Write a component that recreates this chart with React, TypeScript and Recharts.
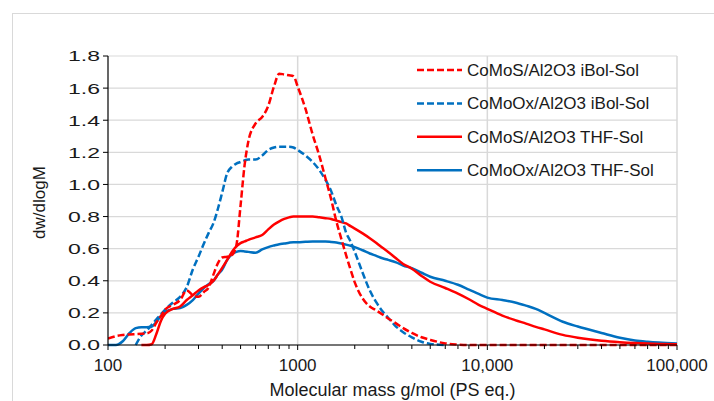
import React from 'react';
import { LineChart, Line, XAxis, YAxis, CartesianGrid, Legend, Label, ReferenceLine } from 'recharts';

// molar mass grid (g/mol, PS eq.) shared by all four traces
const massGrid = [
  100, 110, 120, 130, 140, 150, 160, 170, 180, 190,
  200, 220, 240, 260, 280, 300, 320, 340, 360, 380,
  400, 425, 450, 475, 500, 525, 550, 600, 650, 700,
  750, 800, 850, 900, 950, 1000, 1100, 1200, 1300, 1400,
  1500, 1600, 1700, 1800, 1900, 2000, 2200, 2400, 2600, 2800,
  3000, 3300, 3600, 4000, 4500, 5000, 6000, 7000, 8000, 9000,
  10000, 12000, 14000, 16000, 18000, 20000, 25000, 30000, 40000, 50000,
  60000, 70000, 80000, 100000,
];

// dw/dlogM
const cmsIbol = [
  0.04, 0.055, 0.062, 0.066, 0.068, 0.07, 0.072, 0.09, 0.14, 0.18,
  0.22, 0.25, 0.28, 0.34, 0.31, 0.30, 0.33, 0.36, 0.44, 0.51,
  0.545, 0.55, 0.56, 0.62, 0.87, 1.12, 1.27, 1.38, 1.42, 1.49,
  1.61, 1.69, 1.685, 1.68, 1.675, 1.61, 1.47, 1.31, 1.18, 1.04,
  0.91, 0.77, 0.66, 0.56, 0.47, 0.39, 0.29, 0.24, 0.215, 0.19,
  0.165, 0.135, 0.105, 0.075, 0.048, 0.032, 0.01, 0.003, 0, 0,
  0, 0, 0, 0, 0, 0, 0, 0, 0, 0,
  0, 0, 0, 0,
];
const cmoIbol = [
  null, null, null, null, 0, 0.06, 0.09, 0.125, 0.16, 0.19,
  0.22, 0.265, 0.30, 0.36, 0.47, 0.55, 0.63, 0.70, 0.76, 0.85,
  0.95, 1.07, 1.11, 1.13, 1.14, 1.15, 1.155, 1.155, 1.18, 1.215,
  1.23, 1.235, 1.235, 1.235, 1.23, 1.215, 1.18, 1.14, 1.09, 1.03,
  0.96, 0.87, 0.80, 0.70, 0.645, 0.58, 0.45, 0.34, 0.265, 0.21,
  0.17, 0.115, 0.08, 0.048, 0.02, 0.007, 0, null, null, null,
  null, null, null, null, null, null, null, null, null, null,
  null, null, null, null,
];
const cmsThf = [
  null, null, null, null, null, 0, 0, 0.005, 0.07, 0.15,
  0.195, 0.225, 0.24, 0.28, 0.31, 0.34, 0.36, 0.375, 0.40, 0.44,
  0.48, 0.53, 0.58, 0.615, 0.635, 0.645, 0.655, 0.67, 0.685, 0.72,
  0.75, 0.77, 0.785, 0.795, 0.80, 0.80, 0.80, 0.80, 0.795, 0.79,
  0.785, 0.775, 0.765, 0.757, 0.74, 0.725, 0.695, 0.665, 0.635, 0.605,
  0.58, 0.54, 0.505, 0.475, 0.43, 0.394, 0.355, 0.32, 0.285, 0.25,
  0.225, 0.183, 0.155, 0.133, 0.113, 0.097, 0.063, 0.045, 0.026, 0.017,
  0.012, 0.009, 0.007, 0.005,
];
const cmoThf = [
  0, 0, 0.025, 0.075, 0.105, 0.11, 0.11, 0.115, 0.145, 0.18,
  0.205, 0.225, 0.23, 0.25, 0.28, 0.32, 0.355, 0.38, 0.40, 0.44,
  0.47, 0.53, 0.565, 0.58, 0.585, 0.583, 0.58, 0.575, 0.595, 0.61,
  0.62, 0.628, 0.632, 0.637, 0.64, 0.64, 0.643, 0.645, 0.645, 0.645,
  0.642, 0.638, 0.632, 0.625, 0.618, 0.61, 0.59, 0.57, 0.555, 0.54,
  0.53, 0.515, 0.495, 0.478, 0.45, 0.425, 0.40, 0.375, 0.345, 0.318,
  0.295, 0.28, 0.265, 0.245, 0.225, 0.20, 0.145, 0.115, 0.075, 0.045,
  0.028, 0.02, 0.015, 0.01,
];

const yTicks = [0, 0.2, 0.4, 0.6, 0.8, 1.0, 1.2, 1.4, 1.6, 1.8];
const decades = [100, 1000, 10000, 100000];
const minorTicks = [
  200, 300, 400, 500, 600, 700, 800, 900,
  2000, 3000, 4000, 5000, 6000, 7000, 8000, 9000,
  20000, 30000, 40000, 50000, 60000, 70000, 80000, 90000,
];

// legend order
const series = [
  { key: 'cmsIbol', name: 'CoMoS/Al2O3 iBol-Sol', color: '#FF0000', dash: '7 3' },
  { key: 'cmoIbol', name: 'CoMoOx/Al2O3 iBol-Sol', color: '#0070C0', dash: '7 3' },
  { key: 'cmsThf', name: 'CoMoS/Al2O3 THF-Sol', color: '#FF0000', dash: undefined },
  { key: 'cmoThf', name: 'CoMoOx/Al2O3 THF-Sol', color: '#0070C0', dash: undefined },
];

const data = massGrid.map((m, i) => ({
  m,
  cmsIbol: cmsIbol[i],
  cmoIbol: cmoIbol[i],
  cmsThf: cmsThf[i],
  cmoThf: cmoThf[i],
}));

const FONT = '"Liberation Sans", Arial, sans-serif';
const TEXT = '#1a1a1a';
const FS = 17;

const fmtMass = (v: number) => (v >= 10000 ? v.toLocaleString('en-US') : String(v));

function MassTick({ x, y, payload }: any) {
  const v = payload.value;
  const major = decades.includes(v);
  return (
    <g>
      <line x1={x} x2={x} y1={y} y2={y + (major ? 5 : 4)} stroke="#000" />
      {major && (
        <text x={x} y={y + 26} textAnchor="middle" fill={TEXT} fontSize={FS} fontFamily={FONT}>
          {fmtMass(v)}
        </text>
      )}
    </g>
  );
}

// the y labels in the original are drawn noticeably wide
function ValueTick({ x, y, payload }: any) {
  return (
    <text
      x={x}
      y={y}
      dy={5.4}
      textAnchor="end"
      fill={TEXT}
      fontSize={15.5}
      fontFamily={FONT}
      textLength={32}
      lengthAdjust="spacingAndGlyphs"
    >
      {Number(payload.value).toFixed(1)}
    </text>
  );
}

function LegendBox({ payload }: any) {
  const items = series.map((s) => ({
    s,
    p: (payload || []).find((e: any) => e.dataKey === s.key),
  }));
  return (
    <svg width={290} height={135} style={{ display: 'block' }}>
      {items.map(({ s, p }, i) => {
        const cy = 17 + i * 33.4;
        return (
          <g key={s.key}>
            <line
              x1={7}
              x2={52}
              y1={cy}
              y2={cy}
              stroke={p?.color ?? s.color}
              strokeWidth={2.5}
              strokeDasharray={s.dash}
            />
            <text x={57} y={cy + 6} fill={TEXT} fontSize={FS} fontFamily={FONT}>
              {p?.value ?? s.name}
            </text>
          </g>
        );
      })}
    </svg>
  );
}

export default function App() {
  // fixed, so the 8px body box does not clip the bottom title
  return (
    <div
      style={{
        position: 'fixed',
        left: 0,
        top: 0,
        width: 714,
        height: 401,
        overflow: 'hidden',
        background: '#fff',
        fontFamily: FONT,
      }}
    >
      <div
        style={{
          position: 'absolute',
          left: 12,
          top: 13,
          width: 760,
          height: 440,
          border: '1px solid #d9d9d9',
        }}
      />
      <div style={{ position: 'absolute', left: 0, top: 0 }}>
        <LineChart width={714} height={401} data={data} margin={{ top: 56, right: 37, bottom: 0, left: 0 }}>
          <CartesianGrid stroke="#d9d9d9" strokeWidth={1.2} vertical={false} />
          {decades.slice(1).map((v) => (
            <ReferenceLine key={v} x={v} stroke="#d9d9d9" strokeWidth={1.5} />
          ))}
          <XAxis
            dataKey="m"
            type="number"
            scale="log"
            domain={[100, 100000]}
            ticks={[...decades, ...minorTicks]}
            interval={0}
            allowDataOverflow
            height={56}
            tickSize={0}
            tickMargin={0}
            tickLine={false}
            axisLine={{ stroke: '#000', strokeWidth: 1.2 }}
            tick={<MassTick />}
          >
            <Label
              content={({ viewBox }: any) => (
                <text
                  x={viewBox.x + viewBox.width / 2}
                  y={viewBox.y + 50.5}
                  textAnchor="middle"
                  fill={TEXT}
                  fontSize={17.5}
                  fontFamily={FONT}
                  textLength={246}
                  lengthAdjust="spacingAndGlyphs"
                >
                  Molecular mass g/mol (PS eq.)
                </text>
              )}
            />
          </XAxis>
          <YAxis
            type="number"
            domain={[0, 1.8]}
            ticks={yTicks}
            interval={0}
            width={108}
            tickSize={5}
            tickMargin={3}
            axisLine={{ stroke: '#000', strokeWidth: 1.2 }}
            tickLine={{ stroke: '#000' }}
            tick={<ValueTick />}
          >
            <Label
              content={({ viewBox }: any) => {
                const cx = viewBox.x + 39;
                const cy = viewBox.y + viewBox.height / 2 + 2;
                return (
                  <text
                    x={cx}
                    y={cy}
                    dy={6}
                    transform={`rotate(-90 ${cx} ${cy})`}
                    textAnchor="middle"
                    fill={TEXT}
                    fontSize={FS}
                    fontFamily={FONT}
                  >
                    dw/dlogM
                  </text>
                );
              }}
            />
          </YAxis>
          <Legend
            layout="horizontal"
            align="center"
            verticalAlign="middle"
            wrapperStyle={{ left: 410, top: 53, width: 290 }}
            content={<LegendBox />}
          />
          {[...series].reverse().map((s) => (
            <Line
              key={s.key}
              dataKey={s.key}
              name={s.name}
              type="monotone"
              stroke={s.color}
              strokeWidth={2.5}
              strokeDasharray={s.dash}
              dot={false}
              activeDot={false}
              isAnimationActive={false}
            />
          ))}
        </LineChart>
      </div>
    </div>
  );
}
